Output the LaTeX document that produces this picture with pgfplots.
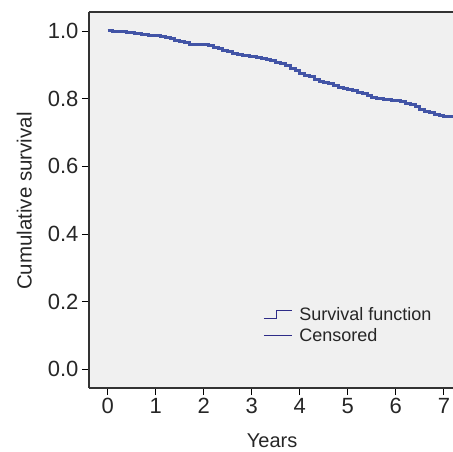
\documentclass[border=0pt]{standalone}
\usepackage{fontspec}
\setmainfont{Liberation Sans}
\usepackage{pgfplots}
\pgfplotsset{compat=1.18}
\definecolor{kmblue}{HTML}{4254A6}
\definecolor{legblue}{HTML}{2E2C88}
\definecolor{bg}{HTML}{F0F0F0}
\begin{document}
\begin{tikzpicture}
\path[use as bounding box] (-89pt,-63pt) rectangle (364pt,388pt);
\begin{axis}[
  at={(0,0)}, anchor=south west,
  scale only axis, width=364pt, height=376pt,
  xmin=-0.39, xmax=7.19, ymin=-0.055, ymax=1.056,
  axis x line*=bottom, axis y line*=left,
  axis line style={-, line width=1.2pt, color=black!80},
  axis background/.style={fill=bg},
  xtick={0,1,2,3,4,5,6,7}, ytick={0,0.2,0.4,0.6,0.8,1.0},
  yticklabel style={/pgf/number format/.cd, fixed, fixed zerofill, precision=1, assume math mode=true},
  xticklabel style={/pgf/number format/assume math mode=true},
  ticklabel style={font=\fontsize{22}{26}\selectfont, text=black!85},
  tick align=outside, major tick length=7pt,
  tick style={black, line width=0.8pt},
  xlabel={Years},
  xlabel style={font=\fontsize{20}{24}\selectfont, text=black!85, inner sep=0pt, at={(axis description cs:0.503,-0.141)}, anchor=center},
  ylabel={Cumulative survival},
  ylabel style={font=\fontsize{20.5}{25}\selectfont, text=black!85, at={(axis description cs:-0.178,0.497)}, anchor=center},
  legend style={draw=none, fill=none, at={(rel axis cs:0.47,0.225)}, anchor=north west,
    font=\fontsize{18}{22}\selectfont, text=black!85, row sep=2pt, column sep=5pt},
  legend cell align=left,
  after end axis/.code={\draw[line width=1.2pt, black!80] (rel axis cs:0,1) -- (rel axis cs:1,1);},
]
\addlegendimage{legend image code/.code={\draw[legblue, line width=1pt] (0pt,-4pt) -- (13pt,-4pt) -- (13pt,4pt) -- (28pt,4pt);}}
\addlegendentry{Survival function}
\addlegendimage{legend image code/.code={\draw[legblue, line width=1pt] (0pt,0pt) -- (28pt,0pt);}}
\addlegendentry{Censored}
\addplot[const plot, kmblue, line width=3pt, forget plot] table {
x y
0.00 1.000
0.10 0.999
0.25 0.997
0.40 0.995
0.55 0.993
0.70 0.990
0.85 0.988
1.00 0.986
1.10 0.984
1.20 0.981
1.30 0.978
1.40 0.973
1.50 0.969
1.60 0.965
1.70 0.961
1.85 0.961
2.00 0.960
2.10 0.956
2.20 0.951
2.30 0.947
2.40 0.942
2.50 0.938
2.60 0.934
2.70 0.931
2.80 0.927
2.95 0.924
3.10 0.922
3.20 0.919
3.30 0.916
3.40 0.912
3.50 0.908
3.60 0.904
3.70 0.898
3.80 0.890
3.90 0.882
4.00 0.875
4.10 0.869
4.20 0.864
4.30 0.858
4.40 0.852
4.50 0.848
4.60 0.844
4.70 0.840
4.80 0.834
4.90 0.829
5.00 0.826
5.10 0.823
5.20 0.819
5.30 0.814
5.40 0.808
5.50 0.803
5.60 0.799
5.75 0.797
5.90 0.795
6.00 0.794
6.10 0.791
6.20 0.787
6.30 0.782
6.40 0.776
6.50 0.769
6.60 0.763
6.70 0.758
6.80 0.754
6.90 0.750
7.00 0.748
7.10 0.746
7.19 0.745
};
\end{axis}
\end{tikzpicture}
\end{document}
